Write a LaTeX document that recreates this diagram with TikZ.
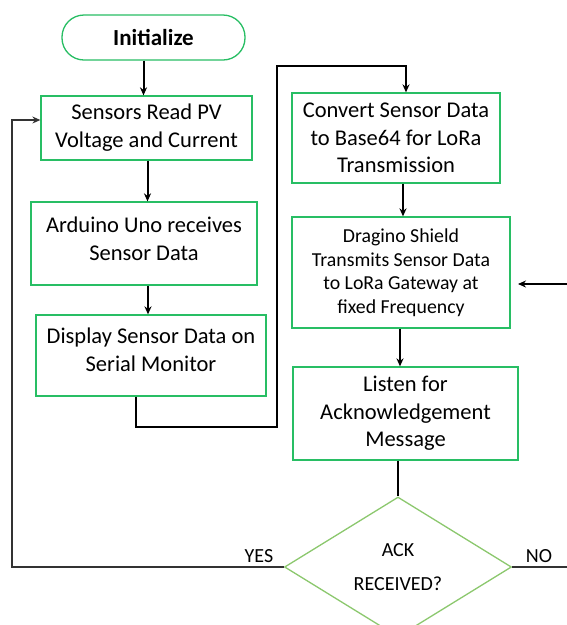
\documentclass[tikz,border=0pt]{standalone}
\usepackage{fontspec}
\setmainfont{Carlito}
\usetikzlibrary{shapes.geometric,arrows.meta}
\definecolor{boxgreen}{RGB}{40,190,100}
\definecolor{diagreen}{RGB}{140,200,110}
\tikzset{
  box/.style={draw=boxgreen, line width=1.3pt, align=center, inner sep=2pt,
    font=\fontsize{22.5}{28}\selectfont},
  term/.style={draw=boxgreen, line width=1.3pt, rounded corners=22pt, align=center,
    font=\fontsize{23}{26}\selectfont\bfseries},
  dia/.style={draw=diagreen, line width=1.3pt, diamond, inner sep=0pt, align=center,
    font=\fontsize{20}{34}\selectfont},
  arr/.style={draw=black, line width=2pt, -{Stealth[length=8pt,width=7pt]}},
  plain/.style={draw=black, line width=2pt},
  lbl/.style={font=\fontsize{20}{22}\selectfont, inner sep=0pt}
}
\begin{document}
\begin{tikzpicture}[x=1pt,y=-1pt]
\useasboundingbox[fill=white] (0,0) rectangle (567,625);
\node[term, minimum width=183pt, minimum height=45pt] (init) at (153.5,37.5) {Initialize};
\node[box, minimum width=211pt, minimum height=64pt] (b1) at (146.5,128) {Sensors Read PV\\Voltage and Current};
\node[box, minimum width=226pt, minimum height=83pt] (b2) at (144,243.5) {};
\node[box, draw=none, inner sep=0pt] (t2) at (144,238.5) {Arduino Uno receives\\Sensor Data};
\node[box, minimum width=230pt, minimum height=81pt] (b3) at (151,355.5) {};
\node[box, draw=none, inner sep=0pt] (t3) at (151,350) {Display Sensor Data on\\Serial Monitor};
\node[box, minimum width=208pt, minimum height=90pt, font=\fontsize{22.5}{27.5}\selectfont] (b4) at (396,138) {Convert Sensor Data\\to Base64 for LoRa\\Transmission};
\node[box, minimum width=218pt, minimum height=111pt, font=\fontsize{19.8}{23.5}\selectfont] (b5) at (401,272.5) {Dragino Shield\\Transmits Sensor Data\\to LoRa Gateway at\\fixed Frequency};
\node[box, minimum width=225pt, minimum height=93pt, font=\fontsize{22.5}{27.5}\selectfont] (b6) at (405.5,413.5) {Listen for\\Acknowledgement\\Message};
\node[dia, minimum width=227pt, minimum height=140pt] (d) at (398,567) {ACK\\RECEIVED?};
\node[lbl] (yes) at (259,556) {YES};
\node[lbl] (no) at (539,556) {NO};
\coordinate (r1) at (277,427);
\coordinate (r2) at (277,66);
\coordinate (yl) at (12,567);
\coordinate (nr) at (567,567);
\coordinate (ri) at (567,284);
\coordinate (ri2) at (518,284);
\draw[arr] ([xshift=-10pt]init.south) -- ([xshift=-10pt]init.south |- b1.north);
\draw[arr] ([xshift=1pt]b1.south) -- ([xshift=1pt]b1.south |- b2.north);
\draw[arr] ([xshift=4pt]b2.south) -- ([xshift=4pt]b2.south |- b3.north);
\draw[arr, line width=2.3pt] ([xshift=-15pt]b3.south) |- (r1) -- (r2) -| ([xshift=10pt]b4.north);
\draw[arr] ([xshift=7pt]b4.south) -- ([xshift=7pt]b4.south |- b5.north);
\draw[arr] ([xshift=-1pt]b5.south) -- ([xshift=-1pt]b5.south |- b6.north);
\draw[plain] (d.north |- b6.south) -- (d.north);
\draw[arr, line width=1.1pt, draw=black!80] (d.west) -- (yl) |- ([yshift=8pt]b1.west);
\draw[line width=1.1pt, draw=black!80] (d.east) -- (nr);
\draw[arr, line width=1.1pt] (ri) -- (ri2);
\end{tikzpicture}
\end{document}
